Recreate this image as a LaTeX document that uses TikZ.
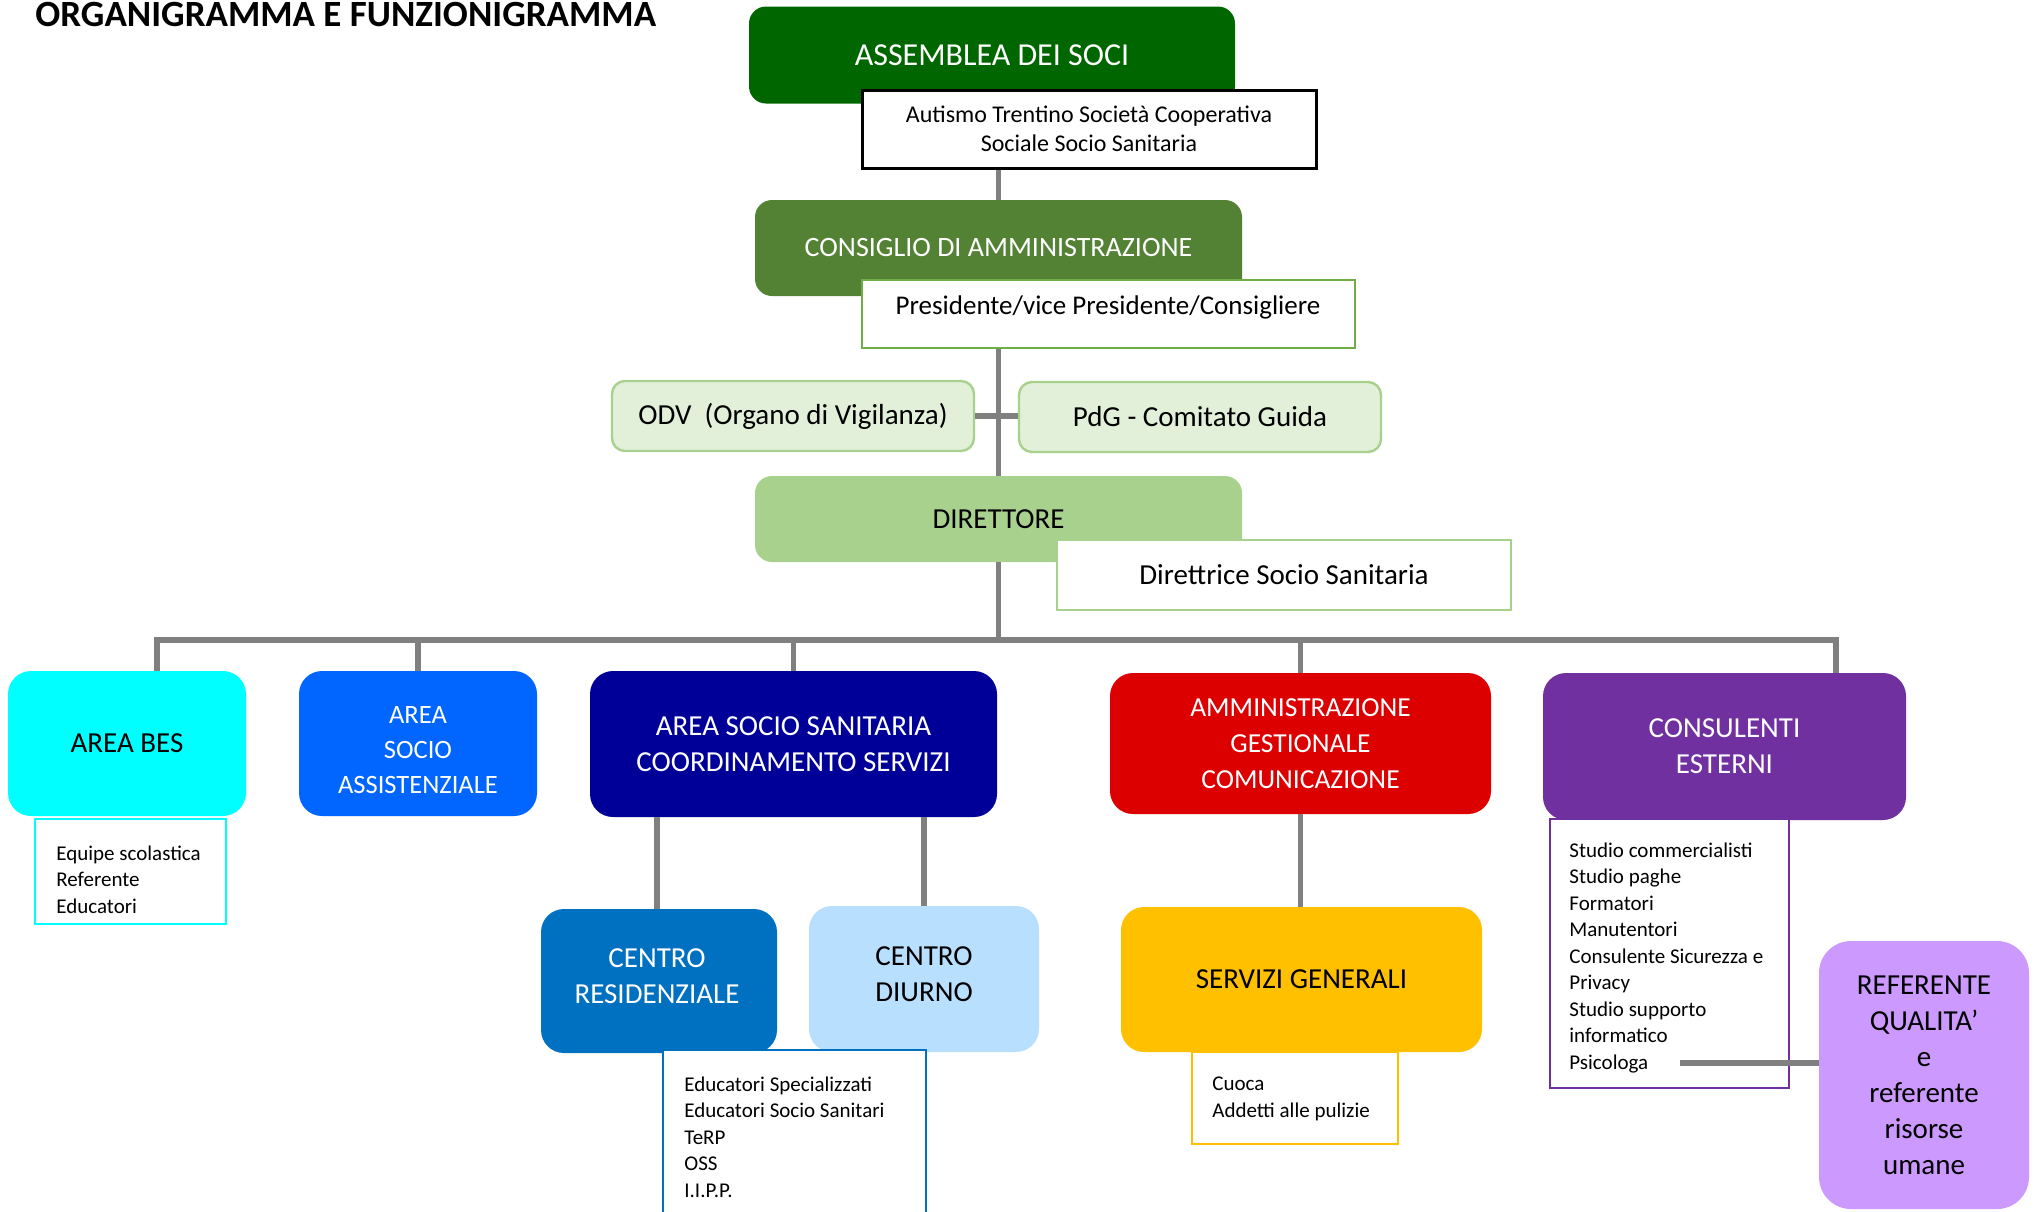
\documentclass[tikz,border=0pt]{standalone}
\usepackage{fontspec}
\setmainfont{Carlito}
\definecolor{cAssem}{HTML}{006600}
\definecolor{cCons}{HTML}{548235}
\definecolor{cOdvFill}{HTML}{E2F0D9}
\definecolor{cOdvLine}{HTML}{A9D18E}
\definecolor{cDir}{HTML}{A9D18E}
\definecolor{cPres}{HTML}{70AD47}
\definecolor{cBes}{HTML}{00FFFF}
\definecolor{cSocioAss}{HTML}{0066FF}
\definecolor{cSocioSan}{HTML}{000099}
\definecolor{cAmm}{HTML}{DD0000}
\definecolor{cConsEst}{HTML}{7030A0}
\definecolor{cRes}{HTML}{0070C0}
\definecolor{cDiu}{HTML}{B9DFFF}
\definecolor{cServ}{HTML}{FFC000}
\definecolor{cRef}{HTML}{CC99FF}
\definecolor{linegray}{HTML}{808080}
\begin{document}
\begin{tikzpicture}[x=0.5pt,y=-0.5pt,
  sz/.style 2 args={minimum width=#1*0.5pt, minimum height=#2*0.5pt},
  conn/.style={draw=linegray, line width=2.8pt},
  head/.style={rounded corners=11.5pt, inner sep=0pt, align=center, font=\fontsize{14.5}{18}\selectfont},
  topbox/.style={rounded corners=8.5pt, inner sep=0pt, align=center, text=white},
  note/.style={draw, fill=white, inner sep=0pt, line width=1pt, align=center},
  soft/.style={rounded corners=6.5pt, fill=cOdvFill, draw=cOdvLine, line width=1.2pt, inner sep=0pt, font=\fontsize{14.5}{18}\selectfont},
  listtext/.style={anchor=west, inner sep=0pt, align=left, font=\fontsize{10.5}{13.25}\selectfont}
]
\useasboundingbox (0,0) rectangle (2038,1211);
\clip (0,0) rectangle (2038,1211);
\fill[white] (0,0) rectangle (2038,1211);

% title
\node[anchor=base west, inner sep=0pt, font=\fontsize{18.5}{22}\selectfont\bfseries] (title) at (35,26) {ORGANIGRAMMA E FUNZIONIGRAMMA};

% top chain
\node[topbox, fill=cAssem, sz={486}{97}, font=\fontsize{16}{19}\selectfont] (assemblea) at (992,55) {ASSEMBLEA DEI SOCI};
\node[note, draw=black, line width=1.5pt, sz={454}{78}, font=\fontsize{12}{14.5}\selectfont] (autismo) at (1089,129) {Autismo Trentino Società Cooperativa\\Sociale Socio Sanitaria};

\node[topbox, fill=cCons, sz={487}{96}, font=\fontsize{14}{17}\selectfont] (consiglio) at (998.5,248) {CONSIGLIO DI AMMINISTRAZIONE};
\node[note, draw=cPres, sz={493}{68}, text height=10pt, text depth=10pt, font=\fontsize{13.5}{16}\selectfont] (presidente) at (1108,314) {Presidente/vice Presidente/Consigliere};

\node[soft, sz={362}{70}] (odv) at (793,416) {ODV\ \ (Organo di Vigilanza)};
\node[soft, sz={362}{70}] (pdg) at (1200,417) {PdG - Comitato Guida};

\node[topbox, fill=cDir, text=black, sz={487}{86}, font=\fontsize{14.5}{18}\selectfont] (direttore) at (998.5,519) {DIRETTORE};
\node[note, draw=cDir, line width=1.2pt, sz={454}{70}, font=\fontsize{14.5}{18}\selectfont] (direttrice) at (1284,575) {Direttrice Socio Sanitaria};

% row of areas
\node[head, fill=cBes, text=black, sz={238}{145}] (bes) at (127,743.5) {AREA BES};
\node[head, fill=cSocioAss, sz={238}{145}] (socioass) at (418,743.5) {};
\node[inner sep=0pt, align=center, text=white, font=\fontsize{13.25}{17.5}\selectfont] (socioassT) at (418,750) {AREA\\SOCIO\\ASSISTENZIALE};
\node[head, fill=cSocioSan, text=white, sz={407}{146}] (sociosan) at (793.5,744) {AREA SOCIO SANITARIA\\COORDINAMENTO SERVIZI};
\node[head, fill=cAmm, text=white, sz={381}{141}, font=\fontsize{13.75}{18}\selectfont] (amm) at (1300.5,743.5) {AMMINISTRAZIONE\\GESTIONALE\\COMUNICAZIONE};
\node[head, fill=cConsEst, text=white, sz={363}{147}] (cons) at (1724.5,746.5) {CONSULENTI\\ESTERNI};

% second level
\node[head, fill=cRes, sz={236}{144}] (centrores) at (659,981) {};
\node[inner sep=0pt, align=center, text=white, font=\fontsize{14.5}{18}\selectfont] (centroresT) at (657,976) {CENTRO\\RESIDENZIALE};
\node[head, fill=cDiu, sz={230}{146}] (centrodiu) at (924,979) {};
\node[inner sep=0pt, align=center, text=black, font=\fontsize{14.5}{18}\selectfont] (centrodiuT) at (924,974) {CENTRO\\DIURNO};
\node[head, fill=cServ, text=black, sz={361}{145}] (servizi) at (1301.5,979.5) {SERVIZI GENERALI};
\node[head, rounded corners=16pt, fill=cRef, text=black, sz={210}{268}] (referente) at (1924,1075) {REFERENTE\\QUALITA’\\e\\referente\\risorse\\umane};

% note boxes
\node[note, draw=cBes, sz={191}{105}] (equipe) at (130.5,871.5) {};
\node[listtext] (equipeT) at (56,879.5) {Equipe scolastica\\Referente\\Educatori};

\node[note, draw=cRes, sz={263}{190}] (educ) at (794.5,1145) {};
\node[listtext] (educT) at (684,1137) {Educatori Specializzati\\Educatori Socio Sanitari\\TeRP\\OSS\\I.I.P.P.};

\node[note, draw=cServ, sz={206}{92}] (cuoca) at (1295,1098) {};
\node[listtext] (cuocaT) at (1212,1099) {Cuoca\\Addetti alle pulizie};

\node[note, draw=cConsEst, sz={239}{269}] (conslist) at (1669.5,953.5) {};
\node[listtext] (conslistT) at (1569,957.5) {Studio commercialisti\\Studio paghe\\Formatori\\Manutentori\\Consulente Sicurezza e\\Privacy\\Studio supporto\\informatico\\Psicologa};

% connectors
\coordinate (busL) at (157,640);
\coordinate (busR) at (1836,640);
\coordinate (psiend) at (1680,1063);

\draw[conn] (autismo.south -| consiglio.north) -- (consiglio.north);
\draw[conn] (presidente.south -| direttore.north) -- (direttore.north);
\draw[conn] (odv.east) -- (pdg.west |- odv.east);
\draw[conn] (direttore.south) -- (direttore.south |- busL);
\draw[conn, line join=miter] (busL |- bes.north) -- (busL) -- (busR) -- (busR |- cons.north);
\draw[conn] (socioass.north) -- (socioass.north |- busL);
\draw[conn] (sociosan.north) -- (sociosan.north |- busL);
\draw[conn] (amm.north) -- (amm.north |- busL);
\draw[conn] (sociosan.south -| centroresT) -- (centrores.north -| centroresT);
\draw[conn] (sociosan.south -| centrodiu.north) -- (centrodiu.north);
\draw[conn] (amm.south) -- (amm.south |- servizi.north);
\draw[conn] (psiend) -- (psiend -| referente.west);
\end{tikzpicture}
\end{document}
